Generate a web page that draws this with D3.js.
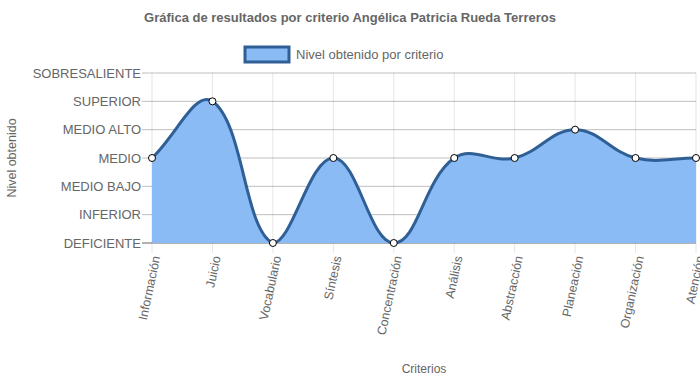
<!DOCTYPE html>
<html>
<head>
<meta charset="utf-8">
<script src="https://cdn.jsdelivr.net/npm/d3@7"></script>
<style>
  body { margin: 0; background: #fff; }
  text { font-family: "Liberation Sans", Arial, sans-serif; fill: #666; }
</style>
</head>
<body>
<svg id="chart" width="700" height="382"></svg>
<script>
var criterios = ["Información", "Juicio", "Vocabulario", "Síntesis", "Concentración",
  "Análisis", "Abstracción", "Planeación", "Organización", "Atención"];
var niveles = ["DEFICIENTE", "INFERIOR", "MEDIO BAJO", "MEDIO", "MEDIO ALTO", "SUPERIOR", "SOBRESALIENTE"];
var valores = [3, 5, 0, 3, 0, 3, 3, 4, 3, 3];

var svg = d3.select("#chart"),
    width = +svg.attr("width"),
    height = +svg.attr("height");

var pLeft = 152, pRight = 696, pTop = 73, pBottom = 243;

var x = d3.scalePoint().domain(criterios).range([pLeft, pRight]).padding(0);
var y = d3.scaleLinear().domain([0, niveles.length - 1]).range([pBottom, pTop]);

// title
svg.append("text")
  .attr("x", width / 2).attr("y", 22)
  .attr("text-anchor", "middle")
  .style("font-size", "13px").style("font-weight", "bold")
  .text("Gráfica de resultados por criterio Angélica Patricia Rueda Terreros");

// legend
svg.append("rect")
  .attr("x", 245).attr("y", 47).attr("width", 44).attr("height", 15)
  .attr("fill", "#8abbf5").attr("stroke", "#2f5f94").attr("stroke-width", 3);
svg.append("text")
  .attr("x", 296).attr("y", 59)
  .style("font-size", "13px")
  .text("Nivel obtenido por criterio");

// grid
svg.append("g").selectAll("line")
  .data(criterios)
  .enter().append("line")
  .attr("x1", function(d) { return x(d); })
  .attr("x2", function(d) { return x(d); })
  .attr("y1", pTop).attr("y2", pBottom + 10)
  .attr("stroke", "rgba(0,0,0,0.1)");

svg.append("g").selectAll("line")
  .data(d3.range(niveles.length))
  .enter().append("line")
  .attr("x1", pLeft - 10).attr("x2", pRight)
  .attr("y1", function(d) { return y(d); })
  .attr("y2", function(d) { return y(d); })
  .attr("stroke", function(d) { return d === 0 ? "rgba(0,0,0,0.3)" : "rgba(0,0,0,0.25)"; })
  .attr("stroke-width", function(d) { return d === 0 ? 2 : 1; });

// smooth path like chart.js bezier (tension 0.4), capped to the area
var pts = valores.map(function(v, i) { return [x(criterios[i]), y(v)]; });
function ctrl(i) {
  var p = pts[i], a = pts[Math.max(i - 1, 0)], b = pts[Math.min(i + 1, pts.length - 1)];
  var d01 = Math.hypot(p[0] - a[0], p[1] - a[1]), d12 = Math.hypot(b[0] - p[0], b[1] - p[1]);
  var s = d01 + d12 || 1;
  var fa = 0.4 * d01 / s, fb = 0.4 * d12 / s;
  var cap = function(v) { return Math.max(pTop, Math.min(pBottom, v)); };
  return {
    prev: [p[0] - fa * (b[0] - a[0]), cap(p[1] - fa * (b[1] - a[1]))],
    next: [p[0] + fb * (b[0] - a[0]), cap(p[1] + fb * (b[1] - a[1]))]
  };
}
var cps = pts.map(function(p, i) { return ctrl(i); });
function curve(ctx) {
  ctx.moveTo(pts[0][0], pts[0][1]);
  for (var i = 1; i < pts.length; i++) {
    ctx.bezierCurveTo(cps[i - 1].next[0], cps[i - 1].next[1], cps[i].prev[0], cps[i].prev[1], pts[i][0], pts[i][1]);
  }
  return ctx;
}
var area = curve(d3.path());
area.lineTo(pts[pts.length - 1][0], pBottom);
area.lineTo(pts[0][0], pBottom);
area.closePath();

svg.append("path").attr("d", area.toString())
  .attr("fill", "#8abbf5");
svg.append("path").attr("d", curve(d3.path()).toString())
  .attr("fill", "none").attr("stroke", "#2f5f94").attr("stroke-width", 3);

svg.append("g").selectAll("circle")
  .data(valores)
  .enter().append("circle")
  .attr("cx", function(d, i) { return x(criterios[i]); })
  .attr("cy", function(d) { return y(d); })
  .attr("r", 3.5)
  .attr("fill", "#fff").attr("stroke", "#000").attr("stroke-width", 1);

// y labels
svg.append("g").selectAll("text")
  .data(niveles)
  .enter().append("text")
  .attr("x", pLeft - 11)
  .attr("y", function(d, i) { return y(i); })
  .attr("dy", "0.35em")
  .attr("text-anchor", "end")
  .style("font-size", "13px")
  .text(function(d) { return d; });

// x labels
svg.append("g").selectAll("text")
  .data(criterios)
  .enter().append("text")
  .attr("transform", function(d) { return "translate(" + (x(d) + 4) + "," + (pBottom + 13) + ") rotate(-78)"; })
  .attr("dy", "0.35em")
  .attr("text-anchor", "end")
  .style("font-size", "12.5px")
  .text(function(d) { return d; });

// axis titles
svg.append("text")
  .attr("transform", "translate(16," + ((pTop + pBottom) / 2) + ") rotate(-90)")
  .attr("text-anchor", "middle")
  .style("font-size", "12.5px")
  .text("Nivel obtenido");
svg.append("text")
  .attr("x", (pLeft + pRight) / 2).attr("y", 373)
  .attr("text-anchor", "middle")
  .style("font-size", "12px")
  .text("Criterios");
</script>
</body>
</html>
